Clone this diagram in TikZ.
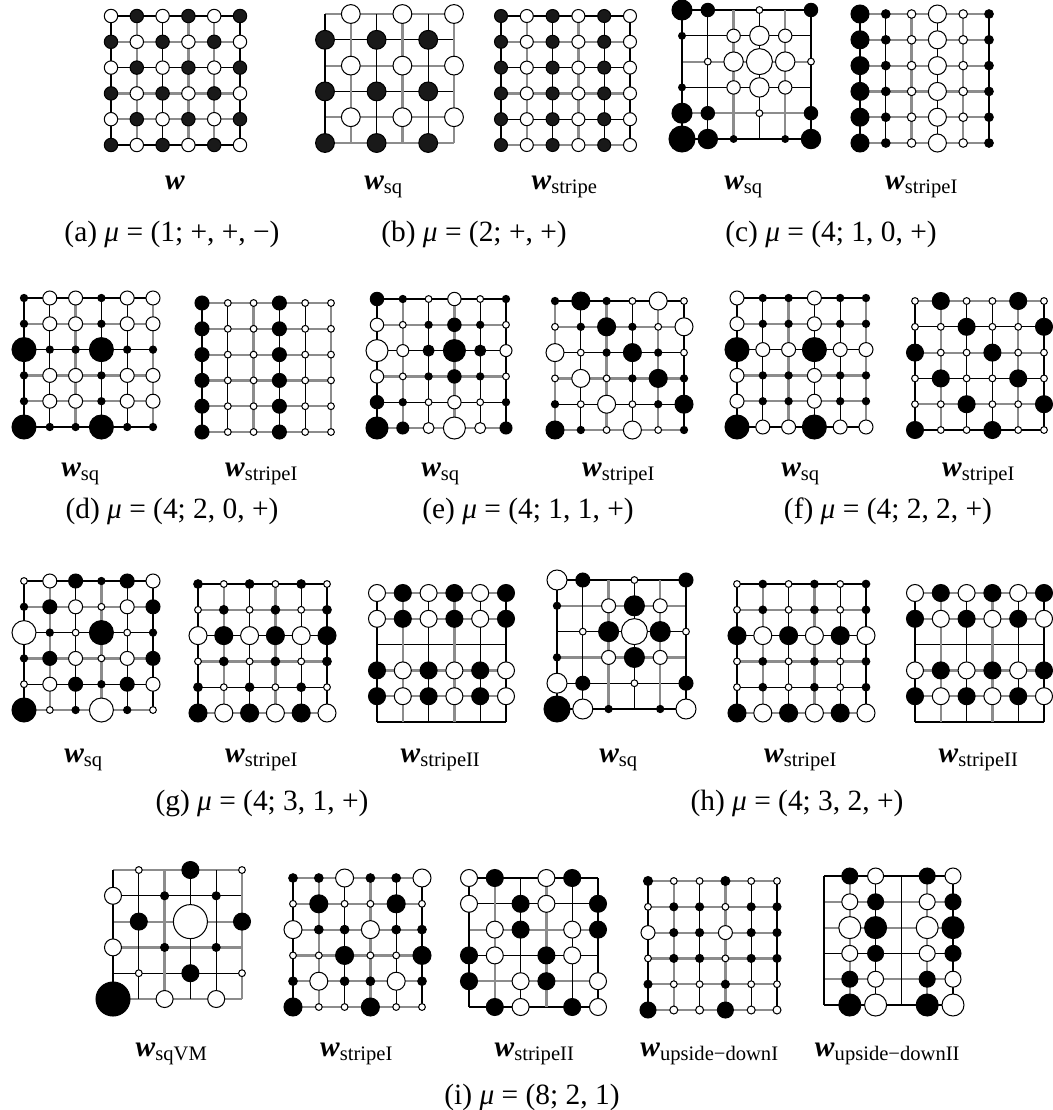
\documentclass[tikz,border=0pt]{standalone}
\usepackage{fontspec}
\setmainfont{Liberation Serif}
\newcommand{\wv}{\textbf{\textit{w}}}
%% one 6x6 lattice: name, x and y of site (0,0), row colours, column colours, sites (radius/colour)
\newcommand{\latt}[6]{%
  \begin{scope}[shift={(#2,#3)}]
    \foreach \ri in {0,...,5} {
      \foreach \ci in {0,...,5} {
        \coordinate (#1-\ri-\ci) at (\ci*25.8,\ri*25.8);
      }
    }
    \foreach \cl [count=\k from 0] in {#4} {
      \draw[bond\cl] (#1-\k-0) -- (#1-\k-5);
    }
    \foreach \cl [count=\k from 0] in {#5} {
      \draw[bond\cl] (#1-0-\k) -- (#1-5-\k);
    }
    \foreach \rad/\col [count=\n from 0] in {#6} {
      \pgfmathtruncatemacro{\ri}{div(\n,6)}
      \pgfmathtruncatemacro{\ci}{mod(\n,6)}
      \ifdim\rad pt>0pt
        \node[site, \col, minimum size=\rad*0.68pt] (#1-n\ri\ci) at (#1-\ri-\ci) {};
      \fi
    }
  \end{scope}%
}
\begin{document}
\begin{tikzpicture}[x=0.34pt, y=-0.34pt,
  bondk/.style={black, line width=0.35pt},
  bondg/.style={black!45, line width=0.75pt},
  site/.style={circle, draw=black, line width=0.35pt, inner sep=0pt, outer sep=0pt},
  bk/.style={fill=black},
  dk/.style={fill=black!90},
  wh/.style={fill=white},
  lbl/.style={anchor=base},
  capt/.style={anchor=base}
]
\useasboundingbox (0,0) rectangle (1053,1110);

%% (a)
\latt{a}{111}{16}{k,g,k,g,g,k}{k,g,k,g,g,k}{
  6.7/wh,6.7/dk,6.7/wh,6.7/dk,6.7/wh,6.7/dk,
  6.7/dk,6.7/wh,6.7/dk,6.7/wh,6.7/dk,6.7/wh,
  6.7/wh,6.7/dk,6.7/wh,6.7/dk,6.7/wh,6.7/dk,
  6.7/dk,6.7/wh,6.7/dk,6.7/wh,6.7/dk,6.7/wh,
  6.7/wh,6.7/dk,6.7/wh,6.7/dk,6.7/wh,6.7/dk,
  6.7/dk,6.7/wh,6.7/dk,6.7/wh,6.7/dk,6.7/wh}
\node[lbl] (a-lab) at (175,189) {\wv};
\node[capt] (a-cap) at (172,241) {(a) \textit{μ} = (1; +, +, −)};

%% (b)
\latt{bsq}{325}{14}{g,k,g,k,g,g}{k,g,k,g,k,g}{
  0,9.4/wh,0,9.4/wh,0,9.4/wh,
  9.4/dk,0,9.4/dk,0,9.4/dk,0,
  0,9.4/wh,0,9.4/wh,0,9.4/wh,
  9.4/dk,0,9.4/dk,0,9.4/dk,0,
  0,9.4/wh,0,9.4/wh,0,9.4/wh,
  9.4/dk,0,9.4/dk,0,9.4/dk,0}
\latt{bst}{501}{16}{k,g,k,g,k,g}{k,g,k,g,k,k}{
  6.5/dk,6.5/wh,6.5/dk,6.5/wh,6.5/dk,6.5/wh,
  6.5/dk,6.5/wh,6.5/dk,6.5/wh,6.5/dk,6.5/wh,
  6.5/dk,6.5/wh,6.5/dk,6.5/wh,6.5/dk,6.5/wh,
  6.5/dk,6.5/wh,6.5/dk,6.5/wh,6.5/dk,6.5/wh,
  6.5/dk,6.5/wh,6.5/dk,6.5/wh,6.5/dk,6.5/wh,
  6.5/dk,6.5/wh,6.5/dk,6.5/wh,6.5/dk,6.5/wh}
\node[lbl] (bsq-lab) at (384,189) {\wv\textsubscript{sq}};
\node[lbl] (bst-lab) at (565,189) {\wv\textsubscript{stripe}};
\node[capt] (b-cap) at (474,241) {(b) \textit{μ} = (2; +, +)};

%% (c)
\latt{csq}{682}{10}{k,k,g,k,g,k}{k,k,g,k,g,k}{
  10/bk,6.7/bk,0,3.4/wh,0,6.7/bk,
  3.4/bk,0,6.7/wh,9.7/wh,6.7/wh,0,
  0,3.4/wh,9.7/wh,13/wh,9.7/wh,3.4/wh,
  3.4/bk,0,6.7/wh,9.7/wh,6.7/wh,0,
  10/bk,6.7/bk,0,3.4/wh,0,6.7/bk,
  13/bk,9.7/bk,3.4/bk,0,3.4/bk,9.7/bk}
\latt{cst}{860}{14}{g,g,g,g,g,g}{k,k,g,k,g,k}{
  9/bk,4.3/bk,4.3/wh,9/wh,4.3/wh,4.3/bk,
  9/bk,4.3/bk,4.3/wh,9/wh,4.3/wh,4.3/bk,
  9/bk,4.3/bk,4.3/wh,9/wh,4.3/wh,4.3/bk,
  9/bk,4.3/bk,4.3/wh,9/wh,4.3/wh,4.3/bk,
  9/bk,4.3/bk,4.3/wh,9/wh,4.3/wh,4.3/bk,
  9/bk,4.3/bk,4.3/wh,9/wh,4.3/wh,4.3/bk}
\node[lbl] (csq-lab) at (744,189) {\wv\textsubscript{sq}};
\node[lbl] (cst-lab) at (922,189) {\wv\textsubscript{stripeI}};
\node[capt] (c-cap) at (831,241) {(c) \textit{μ} = (4; 1, 0, +)};

%% (d)
\latt{dsq}{24}{298}{k,g,k,g,g,k}{k,k,g,k,k,g}{
  3.6/bk,7/wh,7/wh,3.6/bk,7/wh,7/wh,
  3.6/bk,7/wh,7/wh,3.6/bk,7/wh,7/wh,
  12/bk,3.6/bk,3.6/bk,12/bk,3.6/bk,3.6/bk,
  3.6/bk,7/wh,7/wh,3.6/bk,7/wh,7/wh,
  3.6/bk,7/wh,7/wh,3.6/bk,7/wh,7/wh,
  12/bk,3.6/bk,3.6/bk,12/bk,3.6/bk,3.6/bk}
\latt{dst}{202}{303}{g,g,g,g,g,g}{k,k,g,k,k,g}{
  7/bk,3.4/wh,3.4/wh,7/bk,3.4/wh,3.4/wh,
  7/bk,3.4/wh,3.4/wh,7/bk,3.4/wh,3.4/wh,
  7/bk,3.4/wh,3.4/wh,7/bk,3.4/wh,3.4/wh,
  7/bk,3.4/wh,3.4/wh,7/bk,3.4/wh,3.4/wh,
  7/bk,3.4/wh,3.4/wh,7/bk,3.4/wh,3.4/wh,
  7/bk,3.4/wh,3.4/wh,7/bk,3.4/wh,3.4/wh}
\node[lbl] (dsq-lab) at (81,476) {\wv\textsubscript{sq}};
\node[lbl] (dst-lab) at (262,476) {\wv\textsubscript{stripeI}};
\node[capt] (d-cap) at (172,518) {(d) \textit{μ} = (4; 2, 0, +)};

%% (e)
\latt{esq}{377}{299}{k,g,k,g,k,g}{k,g,k,g,k,k}{
  6.7/bk,3.6/bk,3.4/wh,6.7/wh,3.4/wh,3.6/bk,
  6.7/wh,3.4/wh,3.6/bk,6.7/bk,3.6/bk,3.4/wh,
  11/wh,6/wh,5.5/bk,11/bk,5.5/bk,6/wh,
  6.7/wh,3.4/wh,3.6/bk,6.7/bk,3.6/bk,3.4/wh,
  6.7/bk,3.6/bk,3.4/wh,6.7/wh,3.4/wh,3.6/bk,
  11/bk,6/bk,5.5/wh,11/wh,5.5/wh,6/bk}
\latt{est}{555}{301}{k,g,k,g,k,g}{g,k,g,k,g,k}{
  3.6/bk,9/bk,3.6/bk,3.4/wh,9/wh,3.4/wh,
  3.4/wh,3.6/bk,9/bk,3.6/bk,3.4/wh,9/wh,
  9/wh,3.4/wh,3.6/bk,9/bk,3.6/bk,3.4/wh,
  3.4/wh,9/wh,3.4/wh,3.6/bk,9/bk,3.6/bk,
  3.6/bk,3.4/wh,9/wh,3.4/wh,3.6/bk,9/bk,
  9/bk,3.6/bk,3.4/wh,9/wh,3.4/wh,3.6/bk}
\node[lbl] (esq-lab) at (441,476) {\wv\textsubscript{sq}};
\node[lbl] (est-lab) at (619,476) {\wv\textsubscript{stripeI}};
\node[capt] (e-cap) at (528,518) {(e) \textit{μ} = (4; 1, 1, +)};

%% (f)
\latt{fsq}{737}{298}{k,g,k,g,g,k}{k,k,g,k,k,g}{
  7/wh,3.6/bk,3.6/bk,7/wh,3.6/bk,3.6/bk,
  7/wh,3.6/bk,3.6/bk,7/wh,3.6/bk,3.6/bk,
  12/bk,7/wh,7/wh,12/bk,7/wh,7/wh,
  7/wh,3.6/bk,3.6/bk,7/wh,3.6/bk,3.6/bk,
  7/wh,3.6/bk,3.6/bk,7/wh,3.6/bk,3.6/bk,
  12/bk,7/wh,7/wh,12/bk,7/wh,7/wh}
\latt{fst}{915}{301}{g,k,g,k,g,k}{k,g,k,k,g,k}{
  3.4/wh,8.5/bk,3.4/wh,3.4/wh,8.5/bk,3.4/wh,
  3.4/wh,3.4/wh,8.5/bk,3.4/wh,3.4/wh,8.5/bk,
  8.5/bk,3.4/wh,3.4/wh,8.5/bk,3.4/wh,3.4/wh,
  3.4/wh,8.5/bk,3.4/wh,3.4/wh,8.5/bk,3.4/wh,
  3.4/wh,3.4/wh,8.5/bk,3.4/wh,3.4/wh,8.5/bk,
  8.5/bk,3.4/wh,3.4/wh,8.5/bk,3.4/wh,3.4/wh}
\node[lbl] (fsq-lab) at (801,476) {\wv\textsubscript{sq}};
\node[lbl] (fst-lab) at (979,476) {\wv\textsubscript{stripeI}};
\node[capt] (f-cap) at (888,518) {(f) \textit{μ} = (4; 2, 2, +)};

%% (g)
\latt{gsq}{24}{581}{k,g,k,g,k,g}{k,g,k,g,k,k}{
  3.4/wh,7/wh,7/bk,3.6/bk,7/bk,7/wh,
  3.6/bk,7/bk,7/wh,3.4/wh,7/wh,7/bk,
  12/wh,3.6/bk,3.4/wh,12/bk,3.4/wh,3.6/bk,
  3.6/bk,7/bk,7/wh,3.4/wh,7/wh,7/bk,
  3.4/wh,7/wh,7/bk,3.6/bk,7/bk,7/wh,
  12/bk,3.4/wh,3.6/bk,12/wh,3.6/bk,3.4/wh}
\latt{gst}{198}{584}{k,g,k,g,k,g}{k,g,k,g,k,k}{
  4.3/bk,3.4/wh,4.3/bk,3.4/wh,4.3/bk,3.4/wh,
  3.4/wh,4.3/bk,3.4/wh,4.3/bk,3.4/wh,4.3/bk,
  9/wh,9/bk,9/wh,9/bk,9/wh,9/bk,
  3.4/wh,4.3/bk,3.4/wh,4.3/bk,3.4/wh,4.3/bk,
  4.3/bk,3.4/wh,4.3/bk,3.4/wh,4.3/bk,3.4/wh,
  9/bk,9/wh,9/bk,9/wh,9/bk,9/wh}
\latt{gsu}{377}{593}{g,g,k,g,g,k}{k,g,k,g,k,k}{
  8.5/wh,8.5/bk,8.5/wh,8.5/bk,8.5/wh,8.5/bk,
  8.5/wh,8.5/bk,8.5/wh,8.5/bk,8.5/wh,8.5/bk,
  0,0,0,0,0,0,
  8.5/bk,8.5/wh,8.5/bk,8.5/wh,8.5/bk,8.5/wh,
  8.5/bk,8.5/wh,8.5/bk,8.5/wh,8.5/bk,8.5/wh,
  0,0,0,0,0,0}
\node[lbl] (gsq-lab) at (84,762) {\wv\textsubscript{sq}};
\node[lbl] (gst-lab) at (262,762) {\wv\textsubscript{stripeI}};
\node[lbl] (gsu-lab) at (441,762) {\wv\textsubscript{stripeII}};
\node[capt] (g-cap) at (262,810) {(g) \textit{μ} = (4; 3, 1, +)};

%% (h)
\latt{hsq}{557}{580}{k,g,k,g,k,k}{k,k,g,k,g,k}{
  10/wh,7/bk,0,3.4/wh,0,7/bk,
  3.6/bk,0,7/wh,10/bk,7/wh,0,
  0,3.4/wh,10/bk,13/wh,10/bk,3.4/wh,
  3.6/bk,0,7/wh,10/bk,7/wh,0,
  10/wh,7/bk,0,3.4/wh,0,7/bk,
  13/bk,10/wh,3.6/bk,0,3.6/bk,10/wh}
\latt{hst}{737}{584}{k,g,k,g,k,g}{k,g,k,g,k,k}{
  3.4/wh,3.8/bk,3.4/wh,3.8/bk,3.4/wh,3.8/bk,
  3.4/wh,3.8/bk,3.4/wh,3.8/bk,3.4/wh,3.8/bk,
  9/bk,9/wh,9/bk,9/wh,9/bk,9/wh,
  3.4/wh,3.8/bk,3.4/wh,3.8/bk,3.4/wh,3.8/bk,
  3.4/wh,3.8/bk,3.4/wh,3.8/bk,3.4/wh,3.8/bk,
  9/bk,9/wh,9/bk,9/wh,9/bk,9/wh}
\latt{hsu}{915}{593}{g,g,k,g,g,k}{k,g,k,g,k,k}{
  8.5/wh,8.5/bk,8.5/wh,8.5/bk,8.5/wh,8.5/bk,
  8.5/bk,8.5/wh,8.5/bk,8.5/wh,8.5/bk,8.5/wh,
  0,0,0,0,0,0,
  8.5/wh,8.5/bk,8.5/wh,8.5/bk,8.5/wh,8.5/bk,
  8.5/bk,8.5/wh,8.5/bk,8.5/wh,8.5/bk,8.5/wh,
  0,0,0,0,0,0}
\node[lbl] (hsq-lab) at (619,762) {\wv\textsubscript{sq}};
\node[lbl] (hst-lab) at (801,762) {\wv\textsubscript{stripeI}};
\node[lbl] (hsu-lab) at (979,762) {\wv\textsubscript{stripeII}};
\node[capt] (h-cap) at (797,810) {(h) \textit{μ} = (4; 3, 2, +)};

%% (i)
\latt{ivm}{113}{870}{g,k,g,g,k,g}{k,k,g,k,k,g}{
  0,3.4/wh,0,8.5/bk,0,3.4/wh,
  8.5/wh,0,4/bk,0,4/bk,0,
  0,8.5/bk,0,17/wh,0,8.5/bk,
  8.5/wh,0,4/bk,0,4/bk,0,
  0,3.4/wh,0,8.5/bk,0,3.4/wh,
  17/bk,0,8.5/wh,0,8.5/wh,0}
\latt{ist}{293}{878}{g,g,g,g,g,g}{k,g,k,g,k,k}{
  4.3/bk,4.3/bk,9/wh,4.3/bk,4.3/bk,9/wh,
  3.4/wh,9/bk,3.4/wh,3.4/wh,9/bk,3.4/wh,
  9/wh,4.3/bk,4.3/bk,9/wh,4.3/bk,4.3/bk,
  3.4/wh,3.4/wh,9/bk,3.4/wh,3.4/wh,9/bk,
  4.3/bk,9/wh,4.3/bk,4.3/bk,9/wh,4.3/bk,
  9/bk,3.4/wh,3.4/wh,9/bk,3.4/wh,3.4/wh}
\latt{isu}{469}{878}{k,k,g,k,g,k}{k,g,k,g,k,k}{
  8.5/wh,8.5/bk,0,8.5/wh,8.5/bk,0,
  8.5/wh,0,8.5/bk,8.5/wh,0,8.5/bk,
  0,8.5/wh,8.5/bk,0,8.5/wh,8.5/bk,
  8.5/bk,8.5/wh,0,8.5/bk,8.5/wh,0,
  8.5/bk,0,8.5/wh,8.5/bk,0,8.5/wh,
  0,8.5/bk,8.5/wh,0,8.5/bk,8.5/wh}
\latt{iua}{648}{881}{g,g,g,g,g,g}{k,g,k,g,k,k}{
  4.5/bk,3.4/wh,3.4/wh,4.5/bk,3.4/wh,3.4/wh,
  3.4/wh,4/bk,4/bk,3.4/wh,4/bk,4/bk,
  7/wh,4/bk,4/bk,7/wh,4/bk,4/bk,
  3.4/wh,4/bk,4/bk,3.4/wh,4/bk,4/bk,
  4/bk,3.4/wh,3.4/wh,4/bk,3.4/wh,3.4/wh,
  8/bk,4/wh,4/wh,8/bk,4/wh,4/wh}
\latt{iub}{824}{876}{k,g,g,k,g,k}{k,g,k,k,g,k}{
  0,8/bk,8/wh,0,8/bk,8/wh,
  0,8/wh,8/bk,0,8/wh,8/bk,
  0,11/wh,11/bk,0,11/wh,11/bk,
  0,8/wh,8/bk,0,8/wh,8/bk,
  0,8/bk,8/wh,0,8/bk,8/wh,
  0,11/bk,11/wh,0,11/bk,11/wh}
\node[lbl] (ivm-lab) at (172,1056) {\wv\textsubscript{sqVM}};
\node[lbl] (ist-lab) at (357,1056) {\wv\textsubscript{stripeI}};
\node[lbl] (isu-lab) at (535,1056) {\wv\textsubscript{stripeII}};
\node[lbl] (iua-lab) at (710,1056) {\wv\textsubscript{upside−downI}};
\node[lbl] (iub-lab) at (888,1056) {\wv\textsubscript{upside−downII}};
\node[capt] (i-cap) at (532,1104) {(i) \textit{μ} = (8; 2, 1)};
\end{tikzpicture}
\end{document}
